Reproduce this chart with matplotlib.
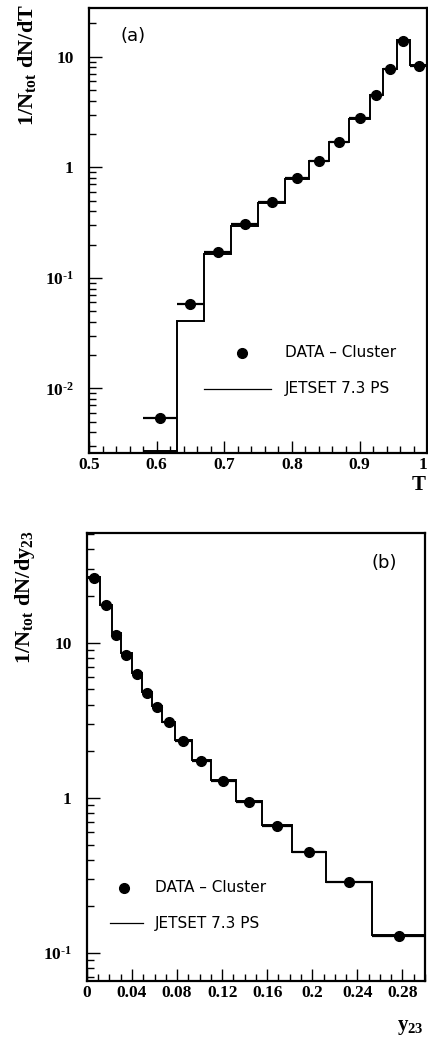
import matplotlib
matplotlib.use("Agg")
import matplotlib.pyplot as plt
import matplotlib.ticker as tck
import numpy as np

# panel (a): thrust T
t_edges = [0.58, 0.63, 0.67, 0.71, 0.75, 0.79, 0.825, 0.855, 0.885, 0.915, 0.935, 0.955, 0.975, 1.0]
t_data = [0.0054, 0.058, 0.171, 0.307, 0.484, 0.796, 1.13, 1.71, 2.82, 4.55, 7.76, 13.9, 8.3]
t_mc = [0.0027, 0.041, 0.163, 0.296, 0.48, 0.78, 1.13, 1.68, 2.75, 4.55, 7.8, 14.2, 8.4]

# panel (b): y23
y_edges = [0, 0.012, 0.022, 0.03, 0.04, 0.049, 0.058, 0.067, 0.078, 0.093, 0.11,
           0.132, 0.155, 0.182, 0.212, 0.253, 0.30]
y_data = [26.3, 17.4, 11.3, 8.4, 6.3, 4.75, 3.86, 3.09, 2.33, 1.73, 1.29, 0.94, 0.66, 0.449, 0.287, 0.129]
y_mc = [26.5, 17.6, 11.5, 8.6, 6.4, 4.8, 3.9, 3.1, 2.35, 1.75, 1.3, 0.95, 0.67, 0.45, 0.285, 0.13]

plt.rcParams["mathtext.fontset"] = "custom"
plt.rcParams["mathtext.rm"] = "Liberation Serif:bold"
plt.rcParams["mathtext.it"] = "Liberation Serif:bold"
plt.rcParams["mathtext.bf"] = "Liberation Serif:bold"

serif = dict(family="Liberation Serif", weight="bold")
sans = "DejaVu Sans"


def decade_fmt(v, pos):
    if abs(v - 1) < 1e-9:
        return "1"
    if abs(v - 10) < 1e-9:
        return "10"
    k = int(round(np.log10(v)))
    return r"$10^{\text{-}%d}$" % abs(k)


def draw_panel(ax, edges, data, mc, xlim, ylim, xmajor, xminor, yticks, xticklabels):
    edges = np.array(edges)
    centers = 0.5 * (edges[1:] + edges[:-1])
    half = 0.5 * (edges[1:] - edges[:-1])
    ax.stairs(mc, edges, baseline=None, color="black", lw=1.4)
    ax.errorbar(centers, data, xerr=half, fmt="o", color="black", ms=7,
                elinewidth=1.6, capsize=0)
    ax.set_yscale("log")
    ax.set_xlim(*xlim)
    ax.set_ylim(*ylim)
    ax.yaxis.set_major_locator(tck.FixedLocator(yticks))
    ax.yaxis.set_major_formatter(tck.FuncFormatter(decade_fmt))
    ax.yaxis.set_minor_locator(tck.LogLocator(base=10, subs=np.arange(2, 10)))
    ax.yaxis.set_minor_formatter(tck.NullFormatter())
    ax.set_xticks(xmajor)
    ax.set_xticklabels(xticklabels)
    ax.xaxis.set_minor_locator(tck.MultipleLocator(xminor))
    ax.tick_params(which="both", direction="in", top=False, right=False, width=1)
    ax.tick_params(which="major", length=9)
    ax.tick_params(which="minor", length=5)
    ax.tick_params(axis="x", pad=3)
    ax.tick_params(axis="y", pad=11)
    for lab in ax.get_xticklabels() + ax.get_yticklabels():
        lab.set_fontfamily("Liberation Serif")
        lab.set_fontweight("bold")
        lab.set_fontsize(12.5)
    for sp in ax.spines.values():
        sp.set_linewidth(1.6)


def draw_key(ax, mx, my, lx0, lx1, ly, tx):
    ax.plot([mx], [my], "o", color="black", ms=7, transform=ax.transAxes, clip_on=False)
    ax.text(tx, my, "DATA \u2013 Cluster", transform=ax.transAxes, va="center",
            ha="left", fontsize=11, family=sans)
    ax.plot([lx0, lx1], [ly, ly], color="black", lw=0.9, transform=ax.transAxes)
    ax.text(tx, ly, "JETSET 7.3 PS", transform=ax.transAxes, va="center",
            ha="left", fontsize=11, family=sans)


fig = plt.figure(figsize=(4.28, 10.41), dpi=100)

ax1 = fig.add_axes([0.208, 0.5648, 0.790, 0.4275])
draw_panel(ax1, t_edges, t_data, t_mc, (0.5, 1.0), (0.0026, 27.6),
           [0.5, 0.6, 0.7, 0.8, 0.9, 1.0], 0.02, [0.01, 0.1, 1, 10],
           ["0.5", "0.6", "0.7", "0.8", "0.9", "1"])
ax1.get_xticklabels()[-1].set_horizontalalignment("right")
ax1.text(0.13, 0.937, "(a)", transform=ax1.transAxes, ha="center", va="center",
         fontsize=13, family=sans)
draw_key(ax1, 0.453, 0.225, 0.340, 0.538, 0.144, 0.580)
fig.text(27 / 428, 1 - 4 / 1041, r"$\mathrm{1/N_{tot}\ dN/dT}$", rotation=90,
         ha="center", va="top", fontsize=16)
fig.text(419 / 428, 1 - 485 / 1041, "T", ha="center", va="center", fontsize=15, **serif)

ax2 = fig.add_axes([0.203, 0.0576, 0.790, 0.4304])
draw_panel(ax2, y_edges, y_data, y_mc, (0, 0.30), (0.066, 51),
           [0, 0.04, 0.08, 0.12, 0.16, 0.2, 0.24, 0.28], 0.01, [0.1, 1, 10],
           ["0", "0.04", "0.08", "0.12", "0.16", "0.2", "0.24", "0.28"])
ax2.text(0.879, 0.933, "(b)", transform=ax2.transAxes, ha="center", va="center",
         fontsize=13, family=sans)
draw_key(ax2, 0.109, 0.208, 0.068, 0.166, 0.129, 0.201)
fig.text(25 / 428, 1 - 530 / 1041, r"$\mathrm{1/N_{tot}\ dN/dy_{23}}$", rotation=90,
         ha="center", va="top", fontsize=16)
fig.text(410 / 428, 1 - 1027 / 1041, r"$\mathrm{y_{23}}$", ha="center", va="center",
         fontsize=15)

fig.savefig("out.png", dpi=100)
